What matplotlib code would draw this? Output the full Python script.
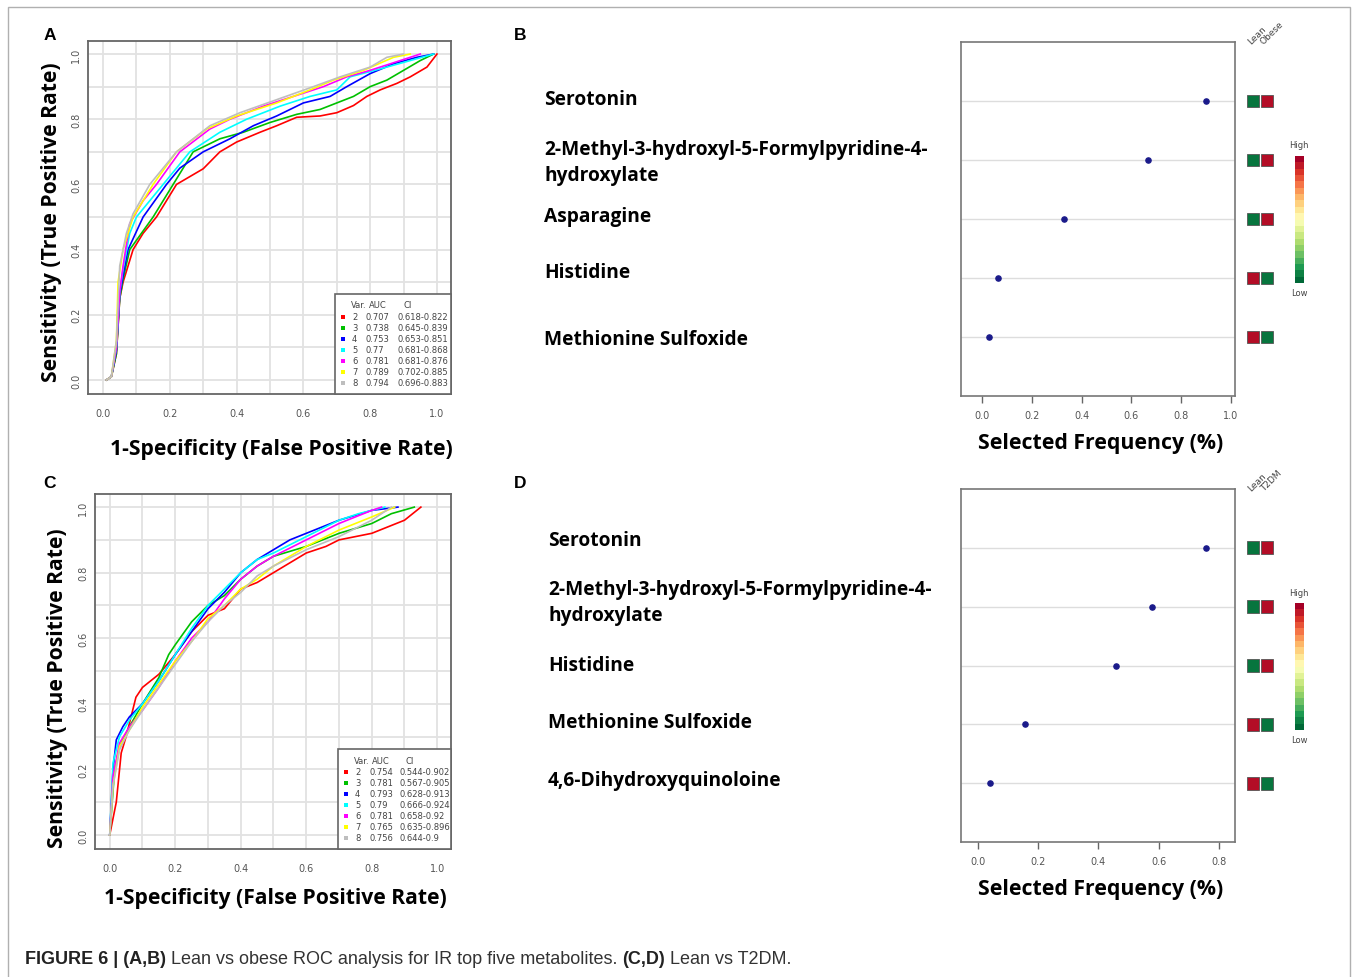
import numpy as np
import matplotlib
matplotlib.use('Agg')
import matplotlib.pyplot as plt
import matplotlib as mpl
from matplotlib.patches import Rectangle

# ---------------- data ----------------
var_ids = [2, 3, 4, 5, 6, 7, 8]
roc_colors = ['#ff0000', '#00c000', '#0000ff', '#00ffff', '#ff00ff', '#ffff00', '#bebebe']

auc_A = ['0.707', '0.738', '0.753', '0.77', '0.781', '0.789', '0.794']
ci_A = ['0.618-0.822', '0.645-0.839', '0.653-0.851', '0.681-0.868', '0.681-0.876', '0.702-0.885', '0.696-0.883']
auc_C = ['0.754', '0.781', '0.793', '0.79', '0.781', '0.765', '0.756']
ci_C = ['0.544-0.902', '0.567-0.905', '0.628-0.913', '0.666-0.924', '0.658-0.92', '0.635-0.896', '0.644-0.9']

# ROC curves panel A (fpr, tpr)
roc_A = [
    ([0.01, 0.025, 0.04, 0.05, 0.06, 0.09, 0.12, 0.16, 0.22, 0.30, 0.35, 0.40, 0.47, 0.52, 0.58, 0.65, 0.70, 0.75, 0.79, 0.83, 0.88, 0.92, 0.97, 1.0],
     [0.0, 0.01, 0.08, 0.25, 0.30, 0.40, 0.45, 0.50, 0.60, 0.648, 0.70, 0.73, 0.76, 0.78, 0.806, 0.81, 0.82, 0.842, 0.87, 0.89, 0.91, 0.93, 0.96, 1.0]),
    ([0.01, 0.025, 0.04, 0.05, 0.06, 0.08, 0.15, 0.21, 0.27, 0.35, 0.42, 0.50, 0.58, 0.65, 0.70, 0.75, 0.80, 0.85, 0.90, 0.95, 0.99],
     [0.0, 0.01, 0.08, 0.25, 0.31, 0.40, 0.50, 0.60, 0.70, 0.74, 0.76, 0.79, 0.815, 0.83, 0.85, 0.87, 0.90, 0.92, 0.95, 0.98, 1.0]),
    ([0.01, 0.025, 0.04, 0.05, 0.06, 0.075, 0.12, 0.19, 0.23, 0.30, 0.38, 0.45, 0.52, 0.60, 0.68, 0.73, 0.80, 0.87, 0.94, 0.99],
     [0.0, 0.01, 0.09, 0.26, 0.32, 0.40, 0.50, 0.60, 0.65, 0.70, 0.74, 0.78, 0.81, 0.85, 0.87, 0.90, 0.94, 0.97, 0.99, 1.0]),
    ([0.01, 0.025, 0.04, 0.05, 0.06, 0.08, 0.10, 0.18, 0.26, 0.35, 0.43, 0.53, 0.62, 0.70, 0.74, 0.85, 0.92, 0.99],
     [0.0, 0.01, 0.10, 0.27, 0.34, 0.45, 0.50, 0.60, 0.70, 0.76, 0.80, 0.84, 0.87, 0.89, 0.93, 0.96, 0.98, 1.0]),
    ([0.01, 0.025, 0.04, 0.05, 0.06, 0.08, 0.12, 0.16, 0.23, 0.32, 0.38, 0.48, 0.60, 0.66, 0.73, 0.80, 0.89, 0.95],
     [0.0, 0.01, 0.10, 0.27, 0.35, 0.48, 0.55, 0.60, 0.70, 0.77, 0.80, 0.84, 0.88, 0.90, 0.93, 0.95, 0.98, 1.0]),
    ([0.01, 0.025, 0.04, 0.045, 0.06, 0.09, 0.15, 0.22, 0.31, 0.40, 0.52, 0.62, 0.69, 0.78, 0.87, 0.92],
     [0.0, 0.01, 0.12, 0.30, 0.40, 0.50, 0.60, 0.70, 0.77, 0.81, 0.85, 0.89, 0.92, 0.95, 0.99, 1.0]),
    ([0.01, 0.025, 0.04, 0.05, 0.07, 0.09, 0.14, 0.22, 0.32, 0.41, 0.52, 0.63, 0.71, 0.80, 0.85, 0.90],
     [0.0, 0.01, 0.12, 0.35, 0.45, 0.51, 0.60, 0.70, 0.78, 0.82, 0.86, 0.90, 0.93, 0.96, 0.99, 1.0]),
]

# ROC curves panel C
roc_C = [
    ([0.0, 0.02, 0.035, 0.05, 0.07, 0.08, 0.10, 0.15, 0.20, 0.25, 0.30, 0.35, 0.40, 0.45, 0.50, 0.55, 0.60, 0.66, 0.70, 0.80, 0.90, 0.95],
     [0.0, 0.10, 0.25, 0.30, 0.38, 0.42, 0.45, 0.49, 0.55, 0.62, 0.67, 0.69, 0.75, 0.77, 0.80, 0.83, 0.86, 0.88, 0.90, 0.92, 0.96, 1.0]),
    ([0.0, 0.015, 0.03, 0.06, 0.10, 0.15, 0.18, 0.20, 0.25, 0.30, 0.35, 0.40, 0.45, 0.50, 0.60, 0.70, 0.80, 0.86, 0.93],
     [0.0, 0.20, 0.27, 0.33, 0.40, 0.48, 0.55, 0.58, 0.65, 0.70, 0.73, 0.78, 0.82, 0.85, 0.88, 0.92, 0.95, 0.98, 1.0]),
    ([0.0, 0.01, 0.02, 0.04, 0.06, 0.10, 0.15, 0.20, 0.25, 0.30, 0.35, 0.40, 0.45, 0.50, 0.55, 0.60, 0.70, 0.80, 0.88],
     [0.0, 0.20, 0.29, 0.33, 0.36, 0.40, 0.47, 0.55, 0.62, 0.69, 0.74, 0.80, 0.84, 0.87, 0.90, 0.92, 0.96, 0.99, 1.0]),
    ([0.0, 0.01, 0.03, 0.06, 0.10, 0.15, 0.20, 0.25, 0.30, 0.35, 0.40, 0.45, 0.50, 0.60, 0.70, 0.76, 0.84],
     [0.0, 0.22, 0.30, 0.35, 0.40, 0.47, 0.55, 0.63, 0.70, 0.75, 0.80, 0.84, 0.86, 0.91, 0.96, 0.98, 1.0]),
    ([0.0, 0.01, 0.03, 0.06, 0.10, 0.15, 0.20, 0.25, 0.30, 0.35, 0.40, 0.45, 0.50, 0.60, 0.70, 0.80, 0.83],
     [0.0, 0.18, 0.28, 0.33, 0.38, 0.45, 0.53, 0.60, 0.65, 0.72, 0.78, 0.82, 0.85, 0.90, 0.95, 0.99, 1.0]),
    ([0.0, 0.01, 0.03, 0.06, 0.10, 0.15, 0.20, 0.25, 0.30, 0.35, 0.40, 0.45, 0.50, 0.60, 0.70, 0.80, 0.87],
     [0.0, 0.15, 0.27, 0.32, 0.39, 0.46, 0.53, 0.59, 0.66, 0.70, 0.75, 0.78, 0.82, 0.88, 0.93, 0.97, 1.0]),
    ([0.0, 0.01, 0.03, 0.06, 0.10, 0.15, 0.20, 0.25, 0.30, 0.35, 0.40, 0.45, 0.50, 0.60, 0.70, 0.80, 0.86],
     [0.0, 0.15, 0.26, 0.32, 0.38, 0.45, 0.52, 0.59, 0.65, 0.70, 0.74, 0.79, 0.82, 0.87, 0.91, 0.96, 1.0]),
]

# selected frequency panels
names_B = ['Serotonin', '2-Methyl-3-hydroxyl-5-Formylpyridine-4-\nhydroxylate',
           'Asparagine', 'Histidine', 'Methionine Sulfoxide']
freq_B = [0.90, 0.667, 0.33, 0.064, 0.028]
heat_B = [[0, 1], [0, 1], [0, 1], [1, 0], [1, 0]]   # 0 = low, 1 = high
groups_B = ['Lean', 'Obese']

names_D = ['Serotonin', '2-Methyl-3-hydroxyl-5-Formylpyridine-4-\nhydroxylate',
           'Histidine', 'Methionine Sulfoxide', '4,6-Dihydroxyquinoloine']
freq_D = [0.757, 0.578, 0.458, 0.156, 0.04]
heat_D = [[0, 1], [0, 1], [0, 1], [1, 0], [1, 0]]
groups_D = ['Lean', 'T2DM']

# ---------------- layout helpers ----------------
W, H = 1357, 978
fig = plt.figure(figsize=(W / 100, H / 100), dpi=100)

def fx(x):
    return x / W

def fy(y):
    return 1 - y / H

def rect(l, t, r, b):
    return [l / W, 1 - b / H, (r - l) / W, (b - t) / H]

lab_font = 'Open Sans'
tick_col = '#555555'
heat_cmap = mpl.colormaps['RdYlGn_r']

# outer frame
fig.add_artist(Rectangle((fx(8), -0.02), fx(1350) - fx(8), fy(8) + 0.02, transform=fig.transFigure,
                         fill=False, ec='#b0b0b0', lw=1.0))


def roc_panel(box, curves, aucs, cis, leg_box, letter_xy, ylab_xy, xlab_xy):
    ax = fig.add_axes(rect(*box))
    for xs_ys, col in zip(curves, roc_colors):
        ax.plot(xs_ys[0], xs_ys[1], color=col, lw=1.2)
    ax.set_xlim(-0.045, 1.042)
    ax.set_ylim(-0.043, 1.04)
    ax.set_xticks(np.arange(0, 1.01, 0.1), minor=True)
    ax.set_yticks(np.arange(0, 1.01, 0.1), minor=True)
    ax.set_xticks(np.arange(0, 1.01, 0.2))
    ax.set_yticks(np.arange(0, 1.01, 0.2))
    ax.set_xticklabels(['%.1f' % v for v in np.arange(0, 1.01, 0.2)])
    ax.set_yticklabels(['%.1f' % v for v in np.arange(0, 1.01, 0.2)], rotation=90, va='center')
    ax.grid(which='both', color='#e2e2e2', lw=1.3, zorder=0)
    ax.set_axisbelow(True)
    ax.tick_params(which='minor', length=0)
    ax.tick_params(which='major', length=0, labelsize=7, labelcolor=tick_col)
    ax.tick_params(axis='x', pad=10)
    ax.tick_params(axis='y', pad=5)
    for s in ax.spines.values():
        s.set_color('#666666')
        s.set_linewidth(1.3)
    # legend box
    l, t, r, b = leg_box
    fig.add_artist(Rectangle((fx(l), fy(b)), fx(r) - fx(l), fy(t) - fy(b), transform=fig.transFigure,
                             fc='white', ec='#666666', lw=1.2))
    fs = 6.0
    fig.text(fx(l + 16), fy(t + 11), 'Var.', fontsize=fs, color='#444444', va='center')
    fig.text(fx(l + 34), fy(t + 11), 'AUC', fontsize=fs, color='#444444', va='center')
    fig.text(fx(l + 68), fy(t + 11), 'CI', fontsize=fs, color='#444444', va='center')
    for i, (v, a, c, col) in enumerate(zip(var_ids, aucs, cis, roc_colors)):
        yy = t + 22.5 + i * 11
        fig.add_artist(Rectangle((fx(l + 6), fy(yy + 2)), 4 / W, 4 / H, transform=fig.transFigure,
                                 fc=col, ec='none'))
        fig.text(fx(l + 17), fy(yy), str(v), fontsize=fs, color='#444444', va='center')
        fig.text(fx(l + 31), fy(yy), a, fontsize=fs, color='#444444', va='center')
        fig.text(fx(l + 62), fy(yy), c, fontsize=fs, color='#444444', va='center')
    fig.text(fx(ylab_xy[0]), fy(ylab_xy[1]), 'Sensitivity (True Positive Rate)', rotation=90,
             fontsize=15.2, fontweight='bold', family=lab_font, ha='center', va='center')
    fig.text(fx(xlab_xy[0]), fy(xlab_xy[1]), '1-Specificity (False Positive Rate)',
             fontsize=15.2, fontweight='bold', family=lab_font, ha='center', va='center')
    fig.text(fx(letter_xy[0][0]), fy(letter_xy[0][1]), letter_xy[1], fontsize=12.5, fontweight='bold',
             family='Liberation Sans', ha='center', va='center')
    return ax


roc_panel((88, 42, 451, 395), roc_A, auc_A, ci_A, (335, 295, 451, 395),
          ((50, 35), 'A'), (52, 222), (281, 450))
roc_panel((95, 495, 451, 850), roc_C, auc_C, ci_C, (338, 750, 451, 850),
          ((50, 483), 'C'), (58, 688), (275, 899))


def freq_panel(box, names, freqs, heat, groups, xlim, xticks, label_x, label_y,
               letter_xy, cbar_y):
    l, t, r, b = box
    ax = fig.add_axes(rect(*box))
    n = len(names)
    rows = np.arange(n, 0, -1)
    for yy in rows:
        ax.axhline(yy, color='#dddddd', lw=1.0, zorder=0)
    ax.scatter(freqs, rows, s=14, color='#1a1a8a', zorder=3)
    ax.set_xlim(*xlim)
    ax.set_ylim(0, n + 1)
    ax.set_yticks([])
    ax.set_xticks(xticks)
    ax.set_xticklabels(['%.1f' % v for v in xticks])
    ax.tick_params(axis='x', length=5, width=1.0, color='#666666', labelsize=7,
                   labelcolor=tick_col, pad=5)
    for s in ax.spines.values():
        s.set_color('#777777')
        s.set_linewidth(1.2)
    fig.text(fx(1101), fy(b + 47), 'Selected Frequency (%)', fontsize=15.3, fontweight='bold',
             family=lab_font, ha='center', va='center')
    for name, yy in zip(names, label_y):
        fig.text(fx(label_x), fy(yy), name, fontsize=13.8, fontweight='bold', family=lab_font,
                 ha='left', va='center', linespacing=1.45)
    # heatmap squares
    hx = fig.add_axes(rect(1244, t, 1276, b))
    hx.set_xlim(0, 2.0)
    hx.set_ylim(0, n + 1)
    hx.axis('off')
    for yy, states in zip(rows, heat):
        for j, st in enumerate(states):
            hx.add_patch(Rectangle((0.2 + j * 0.85, yy - 0.11), 0.75, 0.22,
                                   fc=heat_cmap(0.97 if st else 0.03), ec='#555555', lw=0.6))
    for j, g in enumerate(groups):
        fig.text(fx(1253 + j * 12), fy(t + 3), g, rotation=45, rotation_mode='anchor',
                 fontsize=6.5, color='#444444', ha='left', va='bottom')
    # colour key
    cax = fig.add_axes(rect(1295, cbar_y[0], 1304, cbar_y[1]))
    cb = mpl.colorbar.ColorbarBase(cax, cmap=heat_cmap.resampled(20), orientation='vertical')
    cb.set_ticks([])
    cb.outline.set_visible(False)
    fig.text(fx(1299), fy(cbar_y[0] - 11), 'High', fontsize=6, color='#444444', ha='center', va='center')
    fig.text(fx(1299), fy(cbar_y[1] + 10), 'Low', fontsize=6, color='#444444', ha='center', va='center')
    fig.text(fx(letter_xy[0][0]), fy(letter_xy[0][1]), letter_xy[1], fontsize=12.5, fontweight='bold',
             family='Liberation Sans', ha='center', va='center')
    return ax


freq_panel((961, 43, 1235, 397), names_B, freq_B, heat_B, groups_B,
           (-0.084, 1.016), [0.0, 0.2, 0.4, 0.6, 0.8, 1.0], 544,
           [100, 163, 217, 273, 340], ((520, 35), 'B'), (157, 284))
freq_panel((961, 490, 1235, 843), names_D, freq_D, heat_D, groups_D,
           (-0.056, 0.853), [0.0, 0.2, 0.4, 0.6, 0.8], 548,
           [541, 603, 666, 723, 781], ((520, 483), 'D'), (604, 731))

# caption, assembled from bold and regular pieces
pieces = [('FIGURE 6 | (A,B)', 'bold', '#222222'),
          (' Lean vs obese ROC analysis for IR top five metabolites. ', 'normal', '#333333'),
          ('(C,D)', 'bold', '#222222'),
          (' Lean vs T2DM.', 'normal', '#333333')]
fig.canvas.draw()
renderer = fig.canvas.get_renderer()
xpos = 25
for txt, wt, col in pieces:
    t_ = fig.text(fx(xpos), fy(960), txt, fontsize=13, fontweight=wt, color=col,
                  family='Liberation Sans', va='center', ha='left')
    xpos += t_.get_window_extent(renderer).width

fig.savefig('out.png', dpi=100)
